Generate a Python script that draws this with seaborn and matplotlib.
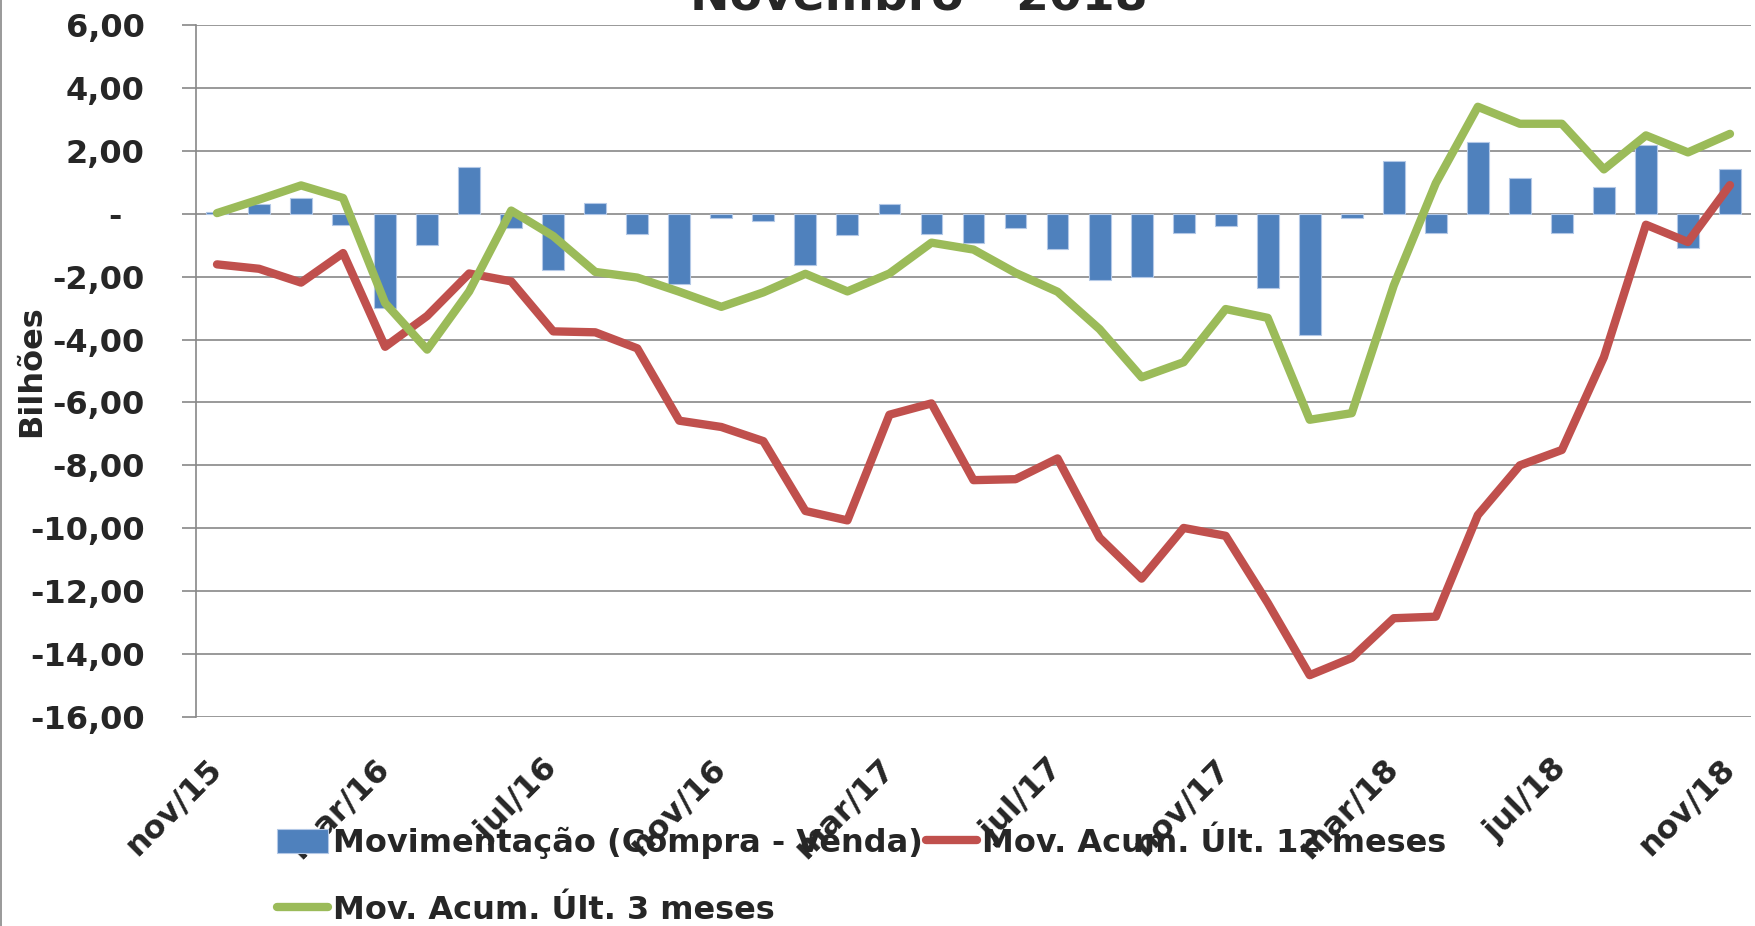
import numpy as np
import pandas as pd
import matplotlib
matplotlib.use("Agg")
import matplotlib.pyplot as plt
import seaborn as sns
from matplotlib.lines import Line2D
from matplotlib.transforms import ScaledTranslation

# ---------------- data ----------------
meses = ["nov/15", "dez/15", "jan/16", "fev/16", "mar/16", "abr/16", "mai/16", "jun/16",
         "jul/16", "ago/16", "set/16", "out/16", "nov/16", "dez/16", "jan/17", "fev/17",
         "mar/17", "abr/17", "mai/17", "jun/17", "jul/17", "ago/17", "set/17", "out/17",
         "nov/17", "dez/17", "jan/18", "fev/18", "mar/18", "abr/18", "mai/18", "jun/18",
         "jul/18", "ago/18", "set/18", "out/18", "nov/18"]

movimentacao = [0.05, 0.30, 0.50, -0.37, -3.00, -1.00, 1.50, -0.45, -1.80, 0.35,
                -0.65, -2.23, -0.14, -0.22, -1.62, -0.68, 0.32, -0.64, -0.94, -0.44,
                -1.12, -2.11, -2.01, -0.61, -0.38, -2.37, -3.85, -0.14, 1.68, -0.61,
                2.29, 1.12, -0.61, 0.84, 2.18, -1.10, 1.43]

acum_12m = [-1.61, -1.75, -2.19, -1.25, -4.23, -3.25, -1.90, -2.15, -3.74, -3.77,
            -4.28, -6.58, -6.78, -7.23, -9.45, -9.75, -6.39, -6.03, -8.47, -8.44,
            -7.78, -10.30, -11.60, -9.99, -10.24, -12.37, -14.67, -14.12, -12.86, -12.81,
            -9.58, -8.00, -7.51, -4.56, -0.35, -0.90, 0.91]

acum_3m = [0.02, 0.45, 0.90, 0.50, -2.84, -4.32, -2.47, 0.10, -0.71, -1.85,
           -2.03, -2.48, -2.96, -2.50, -1.91, -2.47, -1.90, -0.92, -1.14, -1.88,
           -2.48, -3.67, -5.20, -4.72, -3.03, -3.31, -6.55, -6.34, -2.28, 0.97,
           3.40, 2.86, 2.86, 1.41, 2.49, 1.95, 2.54]

tick_meses = ["nov/15", "mar/16", "jul/16", "nov/16", "mar/17", "jul/17",
              "nov/17", "mar/18", "jul/18", "nov/18"]
y_ticks = [6, 4, 2, 0, -2, -4, -6, -8, -10, -12, -14, -16]
y_tick_labels = ["6,00", "4,00", "2,00", "-\u2007", "-2,00", "-4,00", "-6,00",
                 "-8,00", "-10,00", "-12,00", "-14,00", "-16,00"]

titulo = "Novembro - 2018"
lbl_bar = "Movimentação (Compra - Venda)"
lbl_12 = "Mov. Acum. Últ. 12 meses"
lbl_3 = "Mov. Acum. Últ. 3 meses"

# ---------------- style ----------------
sns.set_theme(style="white")
plt.rcParams["font.family"] = ["DejaVu Sans"]
plt.rcParams["font.weight"] = "bold"

C_BAR = "#4F81BD"
C_RED = "#C0504D"
C_GRN = "#9BBB59"
C_GRID = "#888888"
FS = 23

df = pd.DataFrame({"mes": meses, "mov": movimentacao,
                   "a12": acum_12m, "a3": acum_3m,
                   "pos": np.arange(len(meses))})

fig = plt.figure(figsize=(17.56, 9.26), dpi=100)
W, H = 1756, 926
left, right, top, bottom = 196, 1751, 25, 717
ax = fig.add_axes([left / W, 1 - bottom / H, (right - left) / W, (bottom - top) / H])

ax.set_axisbelow(True)
sns.barplot(data=df, x="mes", y="mov", order=meses, color=C_BAR, width=0.52,
            saturation=1, edgecolor="#B3C8E6", linewidth=0.8, ax=ax, label=lbl_bar,
            zorder=2)
sns.lineplot(data=df, x="pos", y="a12", color=C_RED, lw=6, ax=ax, label=lbl_12,
             solid_capstyle="round", solid_joinstyle="round", zorder=3)
sns.lineplot(data=df, x="pos", y="a3", color=C_GRN, lw=6, ax=ax, label=lbl_3,
             solid_capstyle="round", solid_joinstyle="round", zorder=4)

ax.set_xlim(-0.5, len(meses) - 0.5)
ax.set_ylim(-16, 6)
ax.set_yticks(y_ticks)
ax.set_yticklabels(y_tick_labels, fontsize=FS, fontweight="bold")
ax.set_xticks([meses.index(m) for m in tick_meses])
ax.set_xticklabels(tick_meses, fontsize=FS, fontweight="bold", rotation=45,
                   ha="right", va="top", rotation_mode="anchor")

ax.yaxis.grid(True, color=C_GRID, lw=1.2)
ax.xaxis.grid(False)
for s in ["top", "right", "bottom"]:
    ax.spines[s].set_visible(False)
ax.spines["left"].set_color(C_GRID)
ax.spines["left"].set_linewidth(1.2)
ax.tick_params(axis="y", length=10, width=1.2, color=C_GRID, pad=27, left=True)
ax.tick_params(axis="x", length=0, pad=26)

shift = ScaledTranslation(-11 / 100, 0, fig.dpi_scale_trans)
for lbl in ax.get_xticklabels():
    lbl.set_transform(lbl.get_transform() + shift)

ax.set_xlabel("")
ax.set_ylabel("Bilhões", fontsize=FS, fontweight="bold")
ax.yaxis.set_label_coords((47 - left) / (right - left), 0.5)

fig.text(919 / W, 1 - 9 / H, titulo, ha="center", va="baseline",
         fontsize=34, fontweight="bold")

# legend (no frame, drawn over the tick labels like the original)
handles, labels = ax.get_legend_handles_labels()
hmap = dict(zip(labels, handles))
if ax.get_legend() is not None:
    ax.get_legend().remove()
leg = fig.legend([hmap[lbl_bar], hmap[lbl_3], hmap[lbl_12]], [lbl_bar, lbl_3, lbl_12],
                 loc="upper left", bbox_to_anchor=(277 / W, 1 - 827 / H), ncol=2,
                 frameon=False, prop={"weight": "bold", "size": FS},
                 handlelength=1.6, handleheight=0.8, handletextpad=0.15,
                 columnspacing=0.1, labelspacing=1.12, borderpad=0, borderaxespad=0)

# thin border on the left edge of the chart area
fig.add_artist(Line2D([1.5 / W, 1.5 / W], [0, 1], color=C_GRID, lw=1.2,
                      transform=fig.transFigure))

fig.savefig("out.png", dpi=100)
